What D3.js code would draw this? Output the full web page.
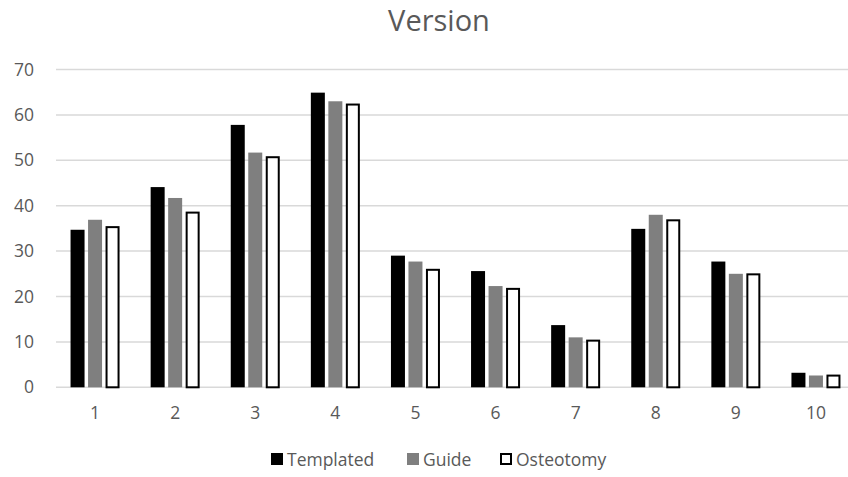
<!DOCTYPE html>
<html>
<head>
<meta charset="utf-8">
<script src="https://cdn.jsdelivr.net/npm/d3@7"></script>
<style>
  html, body { margin: 0; padding: 0; background: #fff; }
  svg { display: block; font-family: "Open Sans", "Liberation Sans", sans-serif; }
</style>
</head>
<body>
<svg id="chart" width="848" height="477"></svg>
<script>
// Category labels along the x axis
const categories = ["1", "2", "3", "4", "5", "6", "7", "8", "9", "10"];
// Series names
const seriesNames = ["Templated", "Guide", "Osteotomy"];
// Values per series, one per category
const templated = [34.7, 44.1, 57.8, 64.9, 29.0, 25.6, 13.7, 34.9, 27.7, 3.2];
const guide     = [36.9, 41.7, 51.7, 63.0, 27.7, 22.3, 11.0, 38.0, 25.0, 2.6];
const osteotomy = [35.5, 38.7, 50.9, 62.5, 26.1, 21.9, 10.5, 37.0, 25.1, 2.8];
// Y axis ticks
const yTicks = [0, 10, 20, 30, 40, 50, 60, 70];

const seriesValues = [templated, guide, osteotomy];
const styles = {
  Templated: { fill: "#000000", stroke: "none", sw: 0 },
  Guide:     { fill: "#7f7f7f", stroke: "none", sw: 0 },
  Osteotomy: { fill: "#ffffff", stroke: "#000000", sw: 2 }
};

const svg = d3.select("#chart");
const textColor = "#595959";
const labelSize = "17.5px";

const x = d3.scaleBand().domain(categories).range([55, 856]).padding(0);
const xInner = d3.scaleBand().domain(seriesNames).range([0, 49]).paddingInner(0.2).paddingOuter(0);
const y = d3.scaleLinear().domain([0, 70]).range([387.3, 69.5]);

// Gridlines
svg.append("g")
  .selectAll("line")
  .data(yTicks)
  .join("line")
  .attr("x1", 56).attr("x2", 848)
  .attr("y1", d => y(d)).attr("y2", d => y(d))
  .attr("stroke", "#d9d9d9")
  .attr("stroke-width", 1.5);

// Y axis labels
const yAxis = d3.axisLeft(y).tickValues(yTicks).tickSize(0).tickPadding(0);
const yg = svg.append("g").attr("transform", "translate(34,0)").call(yAxis);
yg.select(".domain").remove();
yg.selectAll("text")
  .attr("fill", textColor)
  .style("font-size", labelSize)
  .style("font-family", "'Open Sans', sans-serif");

// X axis labels
const xAxis = d3.axisBottom(x).tickSize(0).tickPadding(0);
const xg = svg.append("g").attr("transform", "translate(0,407)").call(xAxis);
xg.select(".domain").remove();
xg.selectAll("text")
  .attr("fill", textColor)
  .style("font-size", labelSize)
  .style("font-family", "'Open Sans', sans-serif");

// Bars
const rows = categories.map((c, i) => ({
  cat: c,
  vals: seriesNames.map((s, j) => ({ series: s, value: seriesValues[j][i] }))
}));

const groups = svg.append("g")
  .selectAll("g")
  .data(rows)
  .join("g")
  .attr("transform", d => `translate(${x(d.cat) + x.bandwidth() / 2 - 24.5},0)`);

groups.selectAll("rect")
  .data(d => d.vals)
  .join("rect")
  .attr("x", d => xInner(d.series) + (styles[d.series].sw / 2))
  .attr("width", d => xInner.bandwidth() - styles[d.series].sw)
  .attr("y", d => y(d.value) + styles[d.series].sw / 2)
  .attr("height", d => y(0) - y(d.value) - styles[d.series].sw / 2)
  .attr("fill", d => styles[d.series].fill)
  .attr("stroke", d => styles[d.series].stroke)
  .attr("stroke-width", d => styles[d.series].sw);

// Title
svg.append("text")
  .attr("x", 439).attr("y", 31)
  .attr("text-anchor", "middle")
  .attr("fill", textColor)
  .style("font-size", "29px")
  .text("Version");

// Legend
const legendX = [271, 407, 500];
const legend = svg.append("g")
  .selectAll("g")
  .data(seriesNames)
  .join("g")
  .attr("transform", (d, i) => `translate(${legendX[i]},453)`);

legend.append("rect")
  .attr("x", d => styles[d].sw / 2)
  .attr("y", d => styles[d].sw / 2)
  .attr("width", d => 12 - styles[d].sw)
  .attr("height", d => 12 - styles[d].sw)
  .attr("fill", d => styles[d].fill)
  .attr("stroke", d => styles[d].stroke)
  .attr("stroke-width", d => styles[d].sw);

legend.append("text")
  .attr("x", 16).attr("y", 12.5)
  .attr("fill", textColor)
  .style("font-size", labelSize)
  .text(d => d);
</script>
</body>
</html>
